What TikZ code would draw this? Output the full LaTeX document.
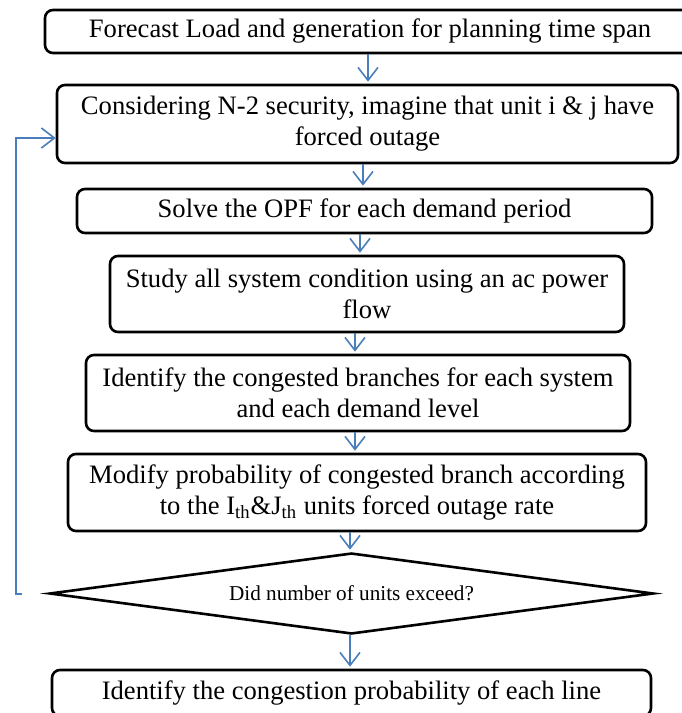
\documentclass[tikz,border=0pt]{standalone}
\usepackage{fontspec}
\setmainfont{Liberation Serif}
\usetikzlibrary{shapes.geometric,arrows.meta,calc}
\definecolor{flowblue}{RGB}{74,126,187}

\begin{document}
\begin{tikzpicture}[x=0.5pt,y=-0.5pt]
	\tikzstyle{stepbox}=[draw, rounded corners=4pt, line width=1.3pt, align=center, inner sep=0pt, font=\fontsize{13.3}{15.5}\selectfont]
	\tikzstyle{decide}=[draw, diamond, shape aspect=7.4, line width=1.3pt, inner sep=0pt, font=\fontsize{10.6}{12.5}\selectfont]
	\tikzstyle{flow}=[draw=flowblue, line width=0.8pt, shorten >=1pt, -{Straight Barb[length=6.5pt,width=10pt]}]

	\useasboundingbox (0,0) rectangle (681,713);

	\node[stepbox, minimum width=325pt, minimum height=21.5pt] (forecast) at (370,31.5) {Forecast Load and generation for planning time span};
	\node[stepbox, minimum width=310.5pt, minimum height=39pt] (outage) at (367.5,124) {Considering N-2 security, imagine that unit i \& j have\\forced outage};
	\node[stepbox, minimum width=287.5pt, minimum height=22pt] (opf) at (364.5,211) {Solve the OPF for each demand period};
	\node[stepbox, minimum width=257pt, minimum height=38pt] (acflow) at (367,294) {Study all system condition using an ac power\\flow};
	\node[stepbox, minimum width=272pt, minimum height=38pt] (congest) at (358,393) {Identify the congested branches for each system\\and each demand level};
	\node[stepbox, minimum width=289pt, minimum height=38.5pt] (modify) at (357,492.5) {Modify probability of congested branch according\\to the I\textsubscript{th}\&J\textsubscript{th} units forced outage rate};
	\node[decide, minimum width=302pt, minimum height=40.5pt] (exceed) at (351.5,593.5) {Did number of units exceed?};
	\node[stepbox, minimum width=299.5pt, minimum height=23pt] (result) at (351.5,693) {Identify the congestion probability of each line};

	% main flow
	\foreach \a/\b/\x in {forecast/outage/368, outage/opf/363, opf/acflow/360, acflow/congest/355, congest/modify/355, modify/exceed/350, exceed/result/350} {
		\coordinate (ax) at (\x,0);
		\draw[flow] (\a.south -| ax) -- (\b.north -| ax);
	}

	% loop back
	\coordinate (back) at (22,594);
	\draw[flow, shorten >=0pt] (back) -- ++(-6,0) |- ($(outage.west)+(0,14)$);
\end{tikzpicture}
\end{document}
